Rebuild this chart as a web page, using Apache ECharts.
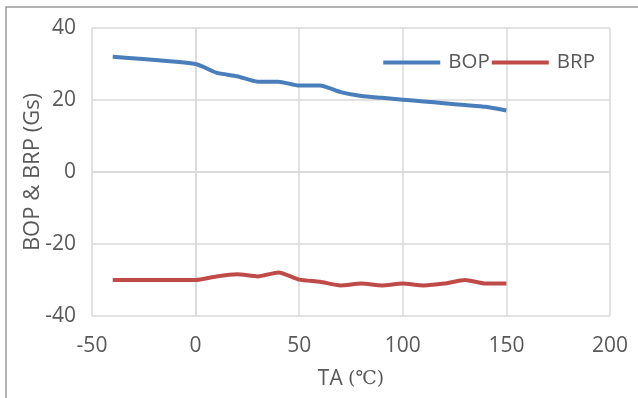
<!DOCTYPE html>
<html>
<head>
<meta charset="utf-8">
<script src="https://cdn.jsdelivr.net/npm/echarts@6/dist/echarts.min.js"></script>
<style>
html,body{margin:0;padding:0;background:#fff;}
#c{width:638px;height:398px;}
</style>
</head>
<body>
<div id="c"></div>
<script>
var temps = [-40, 0, 10, 20, 30, 40, 50, 60, 70, 80, 90, 100, 110, 120, 130, 140, 150];
var bop = [32, 30, 27.6, 26.6, 25.1, 25.1, 24, 24, 22.2, 21.1, 20.6, 20.1, 19.6, 19.1, 18.6, 18.1, 17.1];
var brp = [-30, -30, -29, -28.4, -29, -27.9, -29.9, -30.5, -31.5, -31, -31.5, -31, -31.5, -31, -30, -31, -31];
var xTicks = {min: -50, max: 200, interval: 50};
var yTicks = {min: -40, max: 40, interval: 20};

function pairs(xs, ys){ return xs.map(function(x,i){ return [x, ys[i]]; }); }

var chart = echarts.init(document.getElementById('c'), null, {renderer:'canvas'});
var font = '"Open Sans", "Noto Sans", sans-serif';
var serif = '"DejaVu Serif", "Liberation Serif", serif';
var txt = '#595959';
chart.setOption({
  animation:false,
  backgroundColor:'#fff',
  graphic:[{type:'rect', shape:{x:6, y:7, width:700, height:500}, style:{fill:'none', stroke:'#9a9a9a', lineWidth:1.5}, silent:true}],
  grid:{left:92, right:28, top:28, bottom:82, containLabel:false},
  legend:{
    top:47, right:38, itemWidth:57, itemHeight:4, itemGap:2,
    icon:'rect',
    textStyle:{fontFamily:font, fontSize:20.5, color:txt, padding:[0,0,0,3]},
    data:['BOP','BRP']
  },
  xAxis:{
    type:'value', min:xTicks.min, max:xTicks.max, interval:xTicks.interval,
    name:'TA {s|(℃)}', nameLocation:'middle', nameGap:53, nameMoveOverlap:false,
    nameTextStyle:{fontFamily:font, fontSize:21, color:txt,
      rich:{s:{fontFamily:serif, fontSize:19, color:txt}}},
    axisLine:{show:true, lineStyle:{color:'#d9d9d9', width:1.5}},
    axisTick:{show:false},
    axisLabel:{fontFamily:font, fontSize:21, color:txt, margin:20},
    splitLine:{show:true, lineStyle:{color:'#d9d9d9', width:1.5}}
  },
  yAxis:{
    type:'value', min:yTicks.min, max:yTicks.max, interval:yTicks.interval,
    name:'BOP & BRP (Gs)', nameLocation:'middle', nameGap:48, nameRotate:90, nameMoveOverlap:false,
    nameTextStyle:{fontFamily:font, fontSize:22, color:txt},
    axisLine:{show:true, lineStyle:{color:'#d9d9d9', width:1.5}},
    axisTick:{show:false},
    axisLabel:{fontFamily:font, fontSize:21, color:txt, margin:16},
    splitLine:{show:true, lineStyle:{color:'#d9d9d9', width:1.5}}
  },
  series:[
    {name:'BOP', type:'line', data:pairs(temps,bop), showSymbol:false, smooth:0.2,
     lineStyle:{color:'#4a7ebb', width:4}, itemStyle:{color:'#4a7ebb'}},
    {name:'BRP', type:'line', data:pairs(temps,brp), showSymbol:false, smooth:0.2,
     lineStyle:{color:'#be4b48', width:4}, itemStyle:{color:'#be4b48'}}
  ]
});
</script>
</body>
</html>
